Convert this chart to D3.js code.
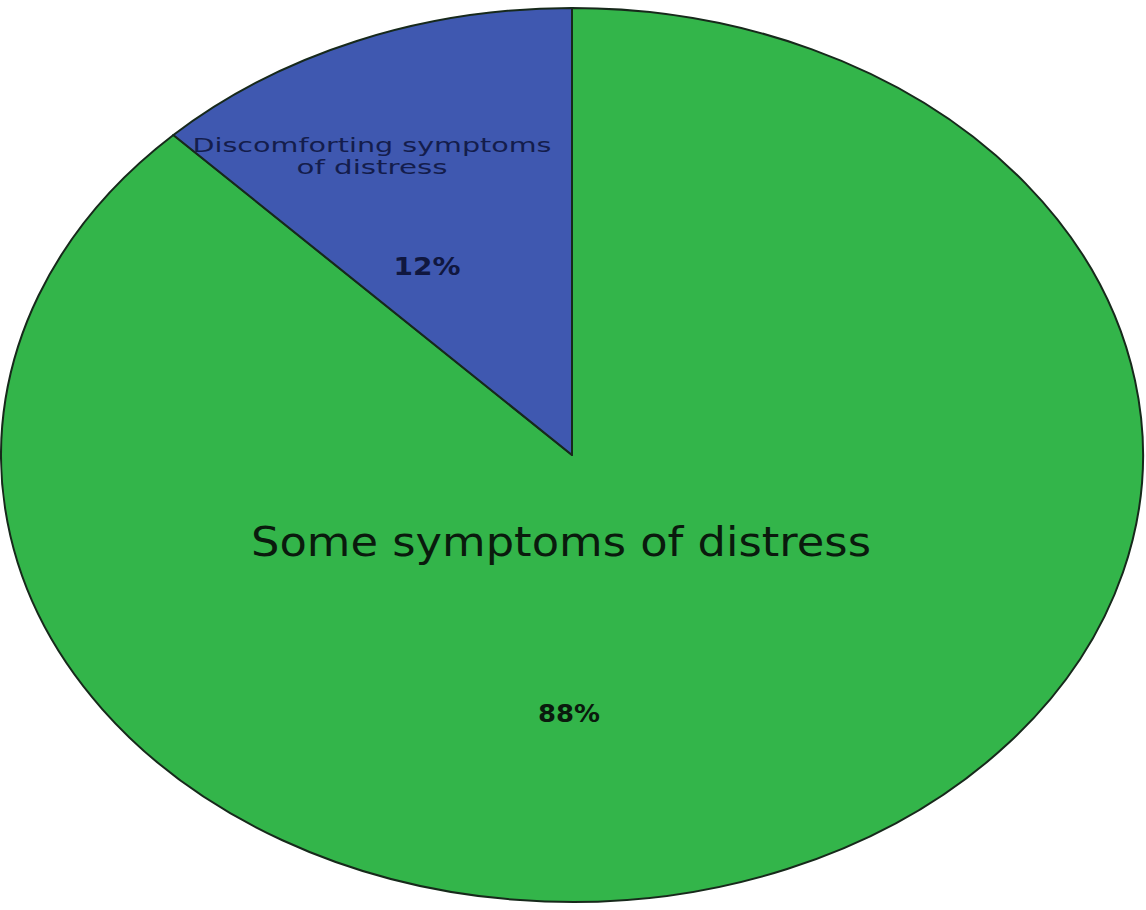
<!DOCTYPE html>
<html>
<head>
<meta charset="utf-8">
<script src="https://cdn.jsdelivr.net/npm/d3@7/dist/d3.min.js"></script>
<style>
  html, body { margin: 0; padding: 0; background: #ffffff; }
  svg { display: block; }
</style>
</head>
<body>
<svg id="chart" width="1146" height="910"></svg>
<script>
// ---- data ----
const categories = ["Some symptoms of distress", "Discomforting symptoms of distress"];
const values = [87.7, 12.3];
const pctLabels = ["88%", "12%"];
const nameLines = [["Some symptoms of distress"], ["Discomforting symptoms", "of distress"]];
const colors = ["#33b54a", "#3f58b0"];

// ---- layout ----
const W = 1146, H = 910;
const cx = 572, cy = 455, rx = 571, ry = 447;

const svg = d3.select("#chart");
svg.append("rect").attr("width", W).attr("height", H).attr("fill", "#ffffff");

const pie = d3.pie().sort(null).value(d => d);
const arcs = pie(values);
const arc = d3.arc().innerRadius(0).outerRadius(ry);

const g = svg.append("g")
  .attr("transform", `translate(${cx},${cy}) scale(${rx / ry},1)`);

g.selectAll("path.slice")
  .data(arcs)
  .enter().append("path")
  .attr("class", "slice")
  .attr("d", arc)
  .attr("fill", (d, i) => colors[i])
  .attr("stroke", "#17291b")
  .attr("stroke-width", 2)
  .attr("stroke-linejoin", "round")
  .attr("vector-effect", "non-scaling-stroke");

const labels = svg.append("g").attr("font-family", "'DejaVu Sans', Verdana, sans-serif");

// blue slice (index 1) labels
{
  const t = labels.append("text")
    .attr("text-anchor", "middle")
    .attr("font-size", 20)
    .attr("fill", "#141d4c");
  nameLines[1].forEach((line, k) => {
    t.append("tspan")
      .attr("x", cx - 200)
      .attr("y", cy - 303 + k * 22)
      .attr("textLength", k === 0 ? 359 : 151)
      .attr("lengthAdjust", "spacingAndGlyphs")
      .text(line);
  });
  labels.append("text")
    .attr("x", cx - 145).attr("y", cy - 180)
    .attr("text-anchor", "middle")
    .attr("font-size", 24)
    .attr("font-weight", "bold")
    .attr("fill", "#10173f")
    .attr("textLength", 67)
    .attr("lengthAdjust", "spacingAndGlyphs")
    .text(pctLabels[1]);
}

// green slice (index 0) labels
{
  labels.append("text")
    .attr("x", cx - 11).attr("y", cy + 101)
    .attr("text-anchor", "middle")
    .attr("font-size", 41)
    .attr("fill", "#0a1a0d")
    .attr("textLength", 620)
    .attr("lengthAdjust", "spacingAndGlyphs")
    .text(nameLines[0][0]);
  labels.append("text")
    .attr("x", cx - 3).attr("y", cy + 267)
    .attr("text-anchor", "middle")
    .attr("font-size", 24)
    .attr("font-weight", "bold")
    .attr("fill", "#0a1a0d")
    .attr("textLength", 62)
    .attr("lengthAdjust", "spacingAndGlyphs")
    .text(pctLabels[0]);
}
</script>
</body>
</html>
